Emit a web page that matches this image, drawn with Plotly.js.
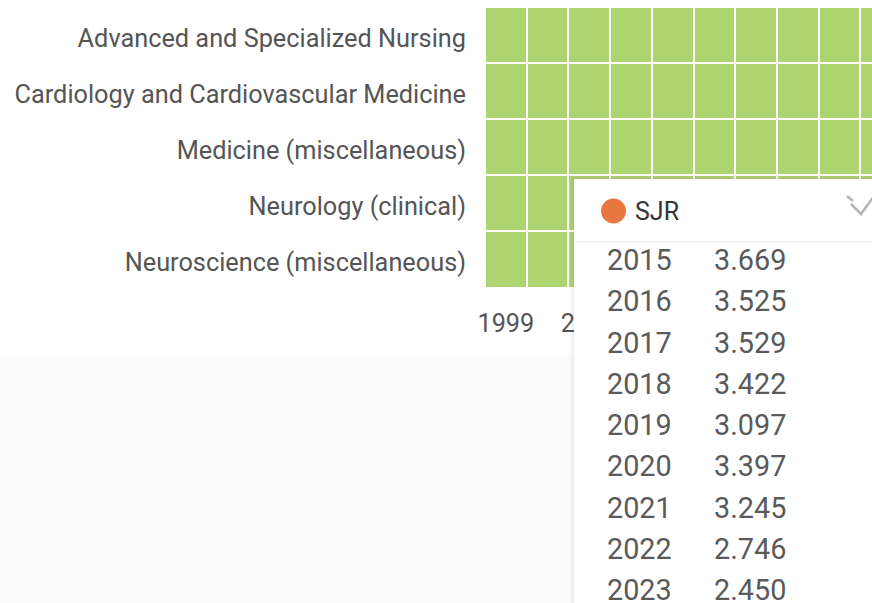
<!DOCTYPE html>
<html>
<head>
<meta charset="utf-8">
<script src="https://cdn.plot.ly/plotly-3.0.1.min.js"></script>
<style>
  html, body { margin: 0; padding: 0; background: #ffffff; }
  #chart { width: 872px; height: 603px; }
</style>
</head>
<body>
<div id="chart"></div>
<script>
// ---- data ----
const categories = [
  "Advanced and Specialized Nursing",
  "Cardiology and Cardiovascular Medicine",
  "Medicine (miscellaneous)",
  "Neurology (clinical)",
  "Neuroscience (miscellaneous)"
];
const years = [1999, 2000, 2001, 2002, 2003, 2004, 2005, 2006, 2007, 2008];
const yearTicks = [1999, 2001];
// quartile per category per year (all visible cells are Q1)
const quartileAdvNursing = ["Q1","Q1","Q1","Q1","Q1","Q1","Q1","Q1","Q1","Q1"];
const quartileCardio     = ["Q1","Q1","Q1","Q1","Q1","Q1","Q1","Q1","Q1","Q1"];
const quartileMedicine   = ["Q1","Q1","Q1","Q1","Q1","Q1","Q1","Q1","Q1","Q1"];
const quartileNeurology  = ["Q1","Q1","Q1","Q1","Q1","Q1","Q1","Q1","Q1","Q1"];
const quartileNeurosci   = ["Q1","Q1","Q1","Q1","Q1","Q1","Q1","Q1","Q1","Q1"];
const tooltipYears = ["2015","2016","2017","2018","2019","2020","2021","2022","2023"];
const sjrValues    = ["3.669","3.525","3.529","3.422","3.097","3.397","3.245","2.746","2.450"];
const seriesName = "SJR";

// ---- helpers (layout only) ----
const W = 872, H = 603;
const px = x => x / W;
const py = y => 1 - y / H;
const qNum = { Q1: 4, Q2: 3, Q3: 2, Q4: 1 };
const qRows = [quartileAdvNursing, quartileCardio, quartileMedicine, quartileNeurology, quartileNeurosci];
const z = qRows.map(r => r.map(q => qNum[q]));

const green = "#aed471";
const font = "Roboto, 'Noto Sans', sans-serif";

const heat = {
  type: "heatmap",
  x: years,
  y: categories,
  z: z,
  text: qRows,
  xgap: 2, ygap: 2,
  zmin: 1, zmax: 4,
  colorscale: [[0, "#dd5a4e"], [0.33, "#fba353"], [0.66, "#e8d559"], [1, green]],
  showscale: false,
  hoverinfo: "skip",
  xaxis: "x", yaxis: "y"
};

// tooltip rows, drawn on their own axes
const tipFont = { family: font, size: 28.8, color: "#5a5a5a" };
const tipYears = {
  type: "scatter", mode: "text",
  x: tooltipYears.map(() => "year"),
  y: tooltipYears.map((_, i) => i),
  text: tooltipYears,
  textposition: "middle right",
  textfont: tipFont,
  hoverinfo: "skip", showlegend: false,
  xaxis: "x2", yaxis: "y2", cliponaxis: false
};
const tipVals = {
  type: "scatter", mode: "text",
  x: sjrValues.map(() => "value"),
  y: sjrValues.map((_, i) => i),
  text: sjrValues,
  textposition: "middle right",
  textfont: tipFont,
  hoverinfo: "skip", showlegend: false,
  xaxis: "x2", yaxis: "y2", cliponaxis: false
};

const plotLeft = 485, cellW = 41.7;
const rowTop = 263, rowStep = 41.25;
const colX0 = 607, colStep = 107;
// pixel -> tooltip-axis coordinates (for decoration shapes)
const tx = x => (x - colX0) / colStep;
const ty = y => (y - rowTop) / rowStep;

const tipShape = (o) => Object.assign({ xref: "x2", yref: "y2", layer: "below" }, o);

const layout = {
  width: W, height: H,
  margin: { l: 0, r: 0, t: 0, b: 0, pad: 0 },
  paper_bgcolor: "#ffffff",
  plot_bgcolor: "rgba(0,0,0,0)",
  font: { family: font, color: "#555555" },
  showlegend: false,
  xaxis: {
    domain: [px(plotLeft), 1],
    range: [years[0] - 0.5, years[0] - 0.5 + (W - plotLeft) / cellW],
    tickmode: "array",
    tickvals: yearTicks,
    ticktext: yearTicks.map(String),
    ticks: "", showgrid: false, zeroline: false, showline: false,
    tickfont: { family: font, size: 25.3, color: "#555555" },
    ticklabelstandoff: 18,
    fixedrange: true
  },
  yaxis: {
    domain: [py(287.5), py(7)],
    autorange: "reversed",
    type: "category",
    ticks: "", showgrid: false, zeroline: false, showline: false,
    tickfont: { family: font, size: 25.3, color: "#555555" },
    ticklabelstandoff: 18,
    ticklabelshift: -3,
    fixedrange: true
  },
  xaxis2: {
    domain: [0, 1], anchor: "y2",
    type: "category",
    categoryarray: ["year", "value"],
    range: [-colX0 / colStep, (W - colX0) / colStep],
    visible: false, fixedrange: true
  },
  yaxis2: {
    domain: [0, 1], anchor: "x2",
    range: [(H - rowTop) / rowStep, -rowTop / rowStep],
    visible: false, fixedrange: true
  },
  shapes: [
    // lower page area with faint background
    { type: "rect", xref: "paper", yref: "paper", x0: 0, x1: px(574), y0: 0, y1: py(356),
      fillcolor: "#fbfbfb", line: { width: 0 }, layer: "below" },
    // tooltip shadow
    tipShape({ type: "rect", x0: tx(570), x1: tx(890), y0: ty(175), y1: ty(640),
      fillcolor: "rgba(0,0,0,0.025)", line: { width: 0 } }),
    tipShape({ type: "rect", x0: tx(572), x1: tx(890), y0: ty(177), y1: ty(640),
      fillcolor: "rgba(0,0,0,0.035)", line: { width: 0 } }),
    // tooltip box
    tipShape({ type: "rect", x0: tx(574), x1: tx(890), y0: ty(179), y1: ty(640),
      fillcolor: "#ffffff", line: { width: 0 } }),
    // header separator
    tipShape({ type: "line", x0: tx(576), x1: tx(880), y0: ty(242), y1: ty(242),
      line: { color: "#f0f0f0", width: 1.5 } }),
    // legend dot
    tipShape({ type: "circle", x0: tx(601), x1: tx(626), y0: ty(198.5), y1: ty(223.5),
      fillcolor: "#e8773f", line: { width: 0 } }),
    // chart-type icon
    tipShape({ type: "path",
      path: `M ${tx(847)} ${ty(196)} L ${tx(853)} ${ty(201)} M ${tx(851)} ${ty(204)} L ${tx(861)} ${ty(214)} L ${tx(874)} ${ty(196)}`,
      line: { color: "#b5b5b5", width: 2.5 } })
  ],
  annotations: [
    { xref: "paper", yref: "paper", x: px(633), y: py(212), xanchor: "left", yanchor: "middle",
      text: seriesName, showarrow: false, font: { family: font, size: 25, color: "#333333" } }
  ]
};

Plotly.newPlot("chart", [heat, tipYears, tipVals], layout, { displayModeBar: false, staticPlot: true });
</script>
</body>
</html>
